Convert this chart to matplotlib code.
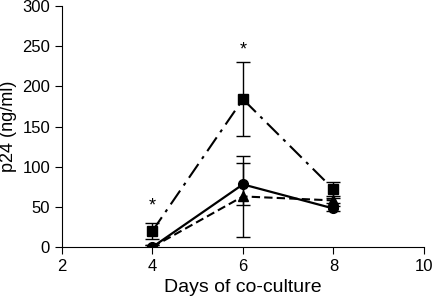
import matplotlib
matplotlib.use("Agg")
from matplotlib import pyplot as plt

plt.rcParams['font.family'] = ['Liberation Sans', 'DejaVu Sans']

days = [4, 6, 8]

square = [20, 184, 72]
square_err = [10, 46, 9]

circle = [0, 78, 48]
circle_err = [2, 26, 3]

triangle = [0, 63, 58]
triangle_err = [2, 50, 3]

star_x = [4, 6]
star_y = [40, 235]

fig = plt.figure(figsize=(4.33, 3.02), dpi=100)
ax = fig.add_axes([0.143, 0.182, 0.836, 0.798])

ax.errorbar(days, square, yerr=square_err, color="black", marker="s", markersize=7,
            linestyle=(0, (8, 3, 1.5, 3)), linewidth=1.5, capsize=5, elinewidth=1)
ax.errorbar(days, circle, yerr=circle_err, color="black", marker="o", markersize=7,
            linestyle="-", linewidth=1.6, capsize=5, elinewidth=1)
ax.errorbar(days, triangle, yerr=triangle_err, color="black", marker="^", markersize=7,
            linestyle=(0, (4, 2)), linewidth=1.5, capsize=5, elinewidth=1)

for x, y in zip(star_x, star_y):
    ax.text(x, y, "*", ha="center", va="bottom", fontsize=13)

ax.set_xlim(2, 10)
ax.set_ylim(0, 300)
ax.set_xticks([2, 4, 6, 8, 10])
ax.set_yticks([0, 50, 100, 150, 200, 250, 300])
ax.spines["top"].set_visible(False)
ax.spines["right"].set_visible(False)
ax.tick_params(labelsize=12, length=5, direction="out")
ax.set_xlabel("Days of co-culture", fontsize=14)
ax.set_ylabel("p24 (ng/ml)", fontsize=13)
for sp in ax.spines.values():
    sp.set_clip_on(False)
ax.set_clip_on(False)

fig.savefig("out.png", dpi=100)
